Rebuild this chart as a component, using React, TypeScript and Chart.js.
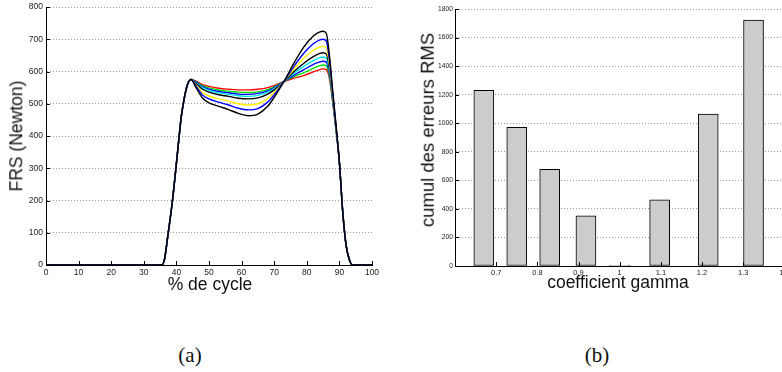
import React, { useEffect, useRef } from "react";
import { Chart, registerables } from "chart.js";

Chart.register(...registerables);

// ---------- Panel (a): FRS vs % de cycle ----------
const riseX = [0, 35, 35.5, 36.3, 37.5, 38.8, 39.85, 40.85, 41.5, 42.2, 43, 43.7, 44.5];
const riseY = [0, 0, 0, 15, 100, 200, 300, 400, 460, 505, 545, 567, 575];
const midX = [46, 48, 50, 53, 56, 59, 62, 65, 68, 70, 73, 76, 79, 82, 84, 85, 86, 87, 88, 89];
const fallX = [90, 91, 92, 93, 94, 100];
const fallY = [318, 168, 65, 18, 0, 0];

const redMid = [570, 560, 554, 548, 545, 543, 543, 545, 550, 556, 569, 579, 587, 599, 606, 608, 606, 575, 500, 415];
const greenMid = [568, 556, 549, 542, 539, 536, 535, 537, 544, 552, 569, 584, 596, 610, 618, 620, 617, 582, 503, 416];
const blueMid = [567, 553, 545, 538, 534, 530, 529, 532, 540, 550, 569, 588, 605, 622, 630, 632, 629, 589, 507, 418];
const cyanMid = [565, 550, 541, 534, 529, 525, 523, 526, 536, 547, 569, 594, 615, 634, 643, 645, 641, 597, 511, 420];
const blackMid = [563, 545, 536, 528, 523, 517, 515, 518, 530, 543, 569, 599, 625, 646, 656, 658, 654, 605, 515, 422];
const yellowMid = [558, 535, 524, 515, 508, 500, 496, 500, 516, 535, 569, 607, 640, 666, 676, 678, 673, 617, 520, 424];
const blue2Mid = [555, 527, 515, 505, 496, 486, 481, 485, 505, 528, 569, 615, 656, 686, 698, 700, 694, 630, 527, 427];
const black2Mid = [550, 518, 503, 492, 482, 470, 463, 468, 492, 520, 569, 625, 675, 710, 723, 725, 718, 645, 535, 430];

const curveColors = ["#ff0000", "#00dd00", "#0000ff", "#00e5e5", "#000000", "#ffee00", "#0000ff", "#000000"];
const curveMids = [redMid, greenMid, blueMid, cyanMid, blackMid, yellowMid, blue2Mid, black2Mid];

const cycleTicksMin = 0;
const cycleTicksMax = 100;
const frsMin = 0;
const frsMax = 800;

// ---------- Panel (b): cumul des erreurs RMS vs gamma ----------
const gammaValues = [0.67, 0.75, 0.83, 0.918, 1.0, 1.097, 1.215, 1.325];
const rmsValues = [1230, 971, 677, 352, 3, 464, 1064, 1722];
const gammaMin = 0.6;
const gammaMax = 1.45;
const rmsMax = 1800;

const SANS = "'Liberation Sans', Arial, Helvetica, sans-serif";

const insideTicks = {
  id: "insideTicks",
  afterDraw(chart: any, _args: any, opts: any) {
    const { ctx, chartArea } = chart;
    const xs = chart.scales.x;
    const ys = chart.scales.y;
    const len = 4;
    ctx.save();
    ctx.strokeStyle = "#000";
    ctx.lineWidth = 1;
    ctx.beginPath();
    xs.ticks.forEach((t: any) => {
      if (opts && opts.xFrom !== undefined && (t.value < opts.xFrom || t.value > opts.xTo)) return;
      const px = Math.round(xs.getPixelForValue(t.value)) + 0.5;
      ctx.moveTo(px, chartArea.bottom);
      ctx.lineTo(px, chartArea.bottom - len);
    });
    ys.ticks.forEach((t: any) => {
      const py = Math.round(ys.getPixelForValue(t.value)) + 0.5;
      ctx.moveTo(chartArea.left, py);
      ctx.lineTo(chartArea.left + len, py);
    });
    ctx.stroke();
    ctx.restore();
  },
};

function LineChart() {
  const ref = useRef<HTMLCanvasElement>(null);
  useEffect(() => {
    const xs = [...riseX, ...midX, ...fallX];
    const datasets = curveMids
      .map((mid, i) => {
        const ys = [...riseY, ...mid, ...fallY];
        return {
          data: xs.map((x, j) => ({ x, y: ys[j] })),
          borderColor: curveColors[i],
          borderWidth: 1.4,
          pointRadius: 0,
          fill: false,
          cubicInterpolationMode: "monotone" as const,
        };
      })
      .reverse();
    const chart = new Chart(ref.current!, {
      type: "line",
      data: { datasets },
      options: {
        animation: false,
        responsive: false,
        events: [],
        layout: { padding: { top: 7, right: 18, left: 0, bottom: 0 } },
        plugins: { legend: { display: false }, tooltip: { enabled: false }, insideTicks: {} } as any,
        scales: {
          x: {
            type: "linear",
            min: cycleTicksMin,
            max: cycleTicksMax,
            grid: { display: false, drawTicks: false },
            border: { display: true, color: "#000", width: 1 },
            ticks: {
              stepSize: 10,
              padding: 3,
              maxRotation: 0,
              color: "#222",
              font: { family: SANS, size: 8.5 },
              callback: (v: any) => String(v),
            },
            afterFit: (s: any) => {
              s.height = 300 - 265;
              s.paddingLeft = 0;
              s.paddingRight = 0;
            },
          },
          y: {
            type: "linear",
            min: frsMin,
            max: frsMax,
            grid: { display: true, drawTicks: false, color: "#9a9a9a", lineWidth: 1 },
            border: { display: true, color: "#000", width: 1, dash: [1, 2] },
            ticks: {
              stepSize: 100,
              padding: 3,
              color: "#222",
              font: { family: SANS, size: 8.5 },
              callback: (v: any) => String(v),
            },
            afterFit: (s: any) => {
              s.width = 46;
              s.paddingTop = 0;
              s.paddingBottom = 0;
            },
          },
        },
      },
      plugins: [insideTicks],
    });
    return () => chart.destroy();
  }, []);
  return <canvas ref={ref} width={390} height={300} style={{ position: "absolute", left: 0, top: 0 }} />;
}

function BarChart() {
  const ref = useRef<HTMLCanvasElement>(null);
  useEffect(() => {
    const chart = new Chart(ref.current!, {
      type: "bar",
      data: {
        datasets: [
          {
            data: gammaValues.map((g, i) => ({ x: g, y: rmsValues[i] })),
            backgroundColor: "#cccccc",
            borderColor: "#000",
            borderWidth: 1,
            borderSkipped: false,
            barThickness: 20,
          },
        ],
      },
      options: {
        animation: false,
        responsive: false,
        events: [],
        layout: { padding: { top: 9, right: 25, left: 0, bottom: 0 } },
        plugins: {
          legend: { display: false },
          tooltip: { enabled: false },
          insideTicks: { xFrom: 0.65, xTo: 1.42 },
        } as any,
        scales: {
          x: {
            type: "linear",
            min: gammaMin,
            max: gammaMax,
            offset: false,
            grid: { display: false, drawTicks: false, offset: false },
            border: { display: true, color: "#000", width: 1 },
            ticks: {
              stepSize: 0.1,
              includeBounds: false,
              padding: 2.5,
              maxRotation: 0,
              autoSkip: false,
              color: "#222",
              font: { family: SANS, size: 7.5 },
              callback: (v: any) => {
                const n = Number(v);
                if (n < 0.65 || n > 1.42) return "";
                return String(Math.round(n * 10) / 10);
              },
            },
            afterFit: (s: any) => {
              s.height = 300 - 266;
              s.paddingLeft = 0;
              s.paddingRight = 0;
            },
          },
          y: {
            type: "linear",
            min: 0,
            max: rmsMax,
            grid: { display: true, drawTicks: false, color: "#9a9a9a", lineWidth: 1 },
            border: { display: true, color: "#000", width: 1, dash: [1, 2] },
            ticks: {
              stepSize: 200,
              padding: 2,
              color: "#222",
              font: { family: SANS, size: 6.7 },
              callback: (v: any) => String(v),
            },
            afterFit: (s: any) => {
              s.width = 65;
              s.paddingTop = 0;
              s.paddingBottom = 0;
            },
          },
        },
      },
      plugins: [insideTicks],
    });
    return () => chart.destroy();
  }, []);
  return <canvas ref={ref} width={440} height={300} style={{ position: "absolute", left: 390, top: 0 }} />;
}

function Label(props: { text: string; x: number; y: number; size: number; rotate?: boolean; serif?: boolean }) {
  const { text, x, y, size, rotate, serif } = props;
  return (
    <div
      style={{
        position: "absolute",
        left: x,
        top: y,
        transform: `translate(-50%, -50%)${rotate ? " rotate(-90deg)" : ""}`,
        fontFamily: serif ? "'Liberation Serif', 'DejaVu Serif', serif" : SANS,
        fontSize: size,
        lineHeight: 1,
        whiteSpace: "nowrap",
        color: "#111",
      }}
    >
      {text}
    </div>
  );
}

export default function App() {
  return (
    <div
      style={{
        position: "fixed",
        left: 0,
        top: 0,
        width: 782,
        height: 372,
        overflow: "hidden",
        background: "#fff",
      }}
    >
      <LineChart />
      <BarChart />
      <Label text="FRS (Newton)" x={17} y={136} size={17.5} rotate />
      <Label text="% de cycle" x={210} y={285} size={17.5} />
      <Label text="cumul des erreurs RMS" x={428} y={130} size={18.5} rotate />
      <Label text="coefficient gamma" x={618} y={283} size={17.5} />
      <Label text="(a)" x={190} y={355} size={21} serif />
      <Label text="(b)" x={597} y={355} size={21} serif />
    </div>
  );
}
